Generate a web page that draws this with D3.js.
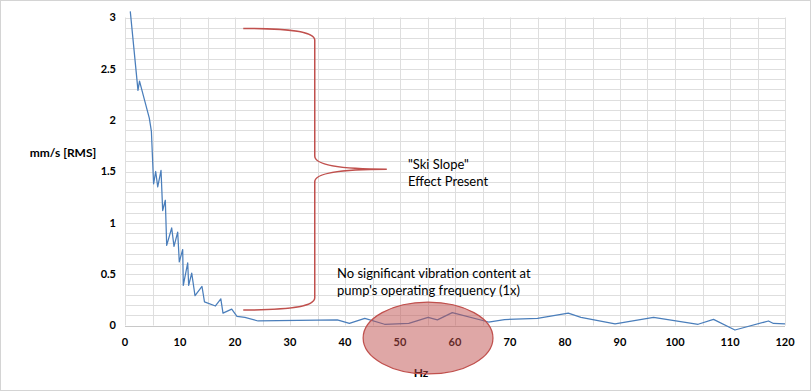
<!DOCTYPE html>
<html lang="en">
    <head>
        <meta charset="utf-8">
        <title>Vibration spectrum - ski slope</title>
        <script type="text/javascript" src="https://d3js.org/d3.v7.min.js"></script>
        <style>
            body { margin: 0; background: #fff; }
            .grid line { stroke: #dedede; stroke-width: 1px; }
            .tick-label { font-family: Lato, "Open Sans", sans-serif; font-weight: bold; font-size: 11px; fill: #000; }
            .axis-title { font-family: Lato, "Open Sans", sans-serif; font-weight: bold; font-size: 12px; fill: #000; }
            .note { font-family: Lato, "Open Sans", sans-serif; font-size: 13px; fill: #000; }
        </style>
    </head>
    <body>
        <svg width="811" height="391"></svg>

        <script type="text/javascript">

            // spectrum: frequency (Hz) and amplitude (mm/s RMS)
            var freqHz = [0.96, 2.36, 2.64, 4.42, 4.8, 5.2, 5.58, 5.95, 6.55, 6.85, 7.33, 7.58,
                          8.49, 8.91, 9.58, 9.87, 10.49, 10.6, 11.4, 11.58, 12.13, 12.73, 14.0, 14.45,
                          16.45, 17.42, 17.82, 19.4, 20.36, 21.8, 24.2, 38.6, 40.8, 43.6, 47.2, 51.6,
                          55.1, 56.8, 59.5, 66.1, 69.0, 75.0, 80.6, 82.9, 89.1, 96.1, 104.2, 107.0,
                          110.9, 117.0, 117.9, 120.0];
            var amplitude = [3.06, 2.29, 2.38, 2.02, 1.89, 1.38, 1.50, 1.35, 1.51, 1.12, 1.22, 0.78,
                             0.95, 0.77, 0.91, 0.62, 0.74, 0.39, 0.61, 0.39, 0.51, 0.29, 0.38, 0.23,
                             0.19, 0.26, 0.12, 0.16, 0.09, 0.08, 0.044, 0.055, 0.02, 0.07, 0.012, 0.02,
                             0.08, 0.055, 0.125, 0.034, 0.058, 0.07, 0.12, 0.08, 0.015, 0.08, 0.012, 0.06,
                             -0.044, 0.044, 0.02, 0.015];

            var xTicks = [0, 10, 20, 30, 40, 50, 60, 70, 80, 90, 100, 110, 120];
            var yTicks = [0, 0.5, 1, 1.5, 2, 2.5, 3];
            var noteSki = ["\"Ski Slope\"", "Effect Present"];
            var noteRun = ["No significant vibration content at", "pump's operating frequency (1x)"];

            var svg = d3.select("svg"),
                width = +svg.attr("width"),
                height = +svg.attr("height");

            var x = d3.scaleLinear().domain([0, 120]).range([125, 785]);
            var y = d3.scaleLinear().domain([0, 3]).range([325.5, 17.5]);

            // outer frame
            svg.append("rect")
              .attr("x", 0.5).attr("y", 0.5)
              .attr("width", width - 1).attr("height", height - 1)
              .attr("fill", "#fff").attr("stroke", "#d4d4d4");

            // minor grid: every 0.1 across, every 5 Hz down
            var grid = svg.append("g").attr("class", "grid");
            grid.selectAll("line.h")
              .data(d3.range(0, 31).map(function(i) { return i / 10; }))
              .enter().append("line")
              .attr("class", "h")
              .attr("x1", x(0)).attr("x2", x(120))
              .attr("y1", function(d) { return Math.round(y(d)) + 0.5; })
              .attr("y2", function(d) { return Math.round(y(d)) + 0.5; });
            grid.selectAll("line.v")
              .data(d3.range(0, 121, 5))
              .enter().append("line")
              .attr("class", "v")
              .attr("y1", y(0)).attr("y2", y(3))
              .attr("x1", function(d) { return Math.round(x(d)) + 0.5; })
              .attr("x2", function(d) { return Math.round(x(d)) + 0.5; });

            // axis base line
            svg.append("line")
              .attr("x1", x(0)).attr("x2", x(120))
              .attr("y1", Math.round(y(0)) + 0.5).attr("y2", Math.round(y(0)) + 0.5)
              .attr("stroke", "#c8c8c8");

            // tick labels
            svg.selectAll("text.yt")
              .data(yTicks)
              .enter().append("text")
              .attr("class", "tick-label yt")
              .attr("x", 116)
              .attr("y", function(d) { return y(d); })
              .attr("dy", "0.35em")
              .attr("text-anchor", "end")
              .text(function(d) { return d; });

            svg.selectAll("text.xt")
              .data(xTicks)
              .enter().append("text")
              .attr("class", "tick-label xt")
              .attr("x", function(d) { return x(d); })
              .attr("y", 342)
              .attr("dy", "0.35em")
              .attr("text-anchor", "middle")
              .text(function(d) { return d; });

            svg.append("text")
              .attr("class", "axis-title")
              .attr("x", 63).attr("y", 153).attr("dy", "0.35em")
              .attr("text-anchor", "middle")
              .text("mm/s [RMS]");

            svg.append("text")
              .attr("class", "axis-title")
              .attr("x", 421).attr("y", 373).attr("dy", "0.35em")
              .attr("text-anchor", "middle")
              .text("Hz");

            // the spectrum
            var points = freqHz.map(function(f, i) { return [f, amplitude[i]]; });
            var line = d3.line()
              .x(function(d) { return x(d[0]); })
              .y(function(d) { return y(d[1]); });

            svg.append("path")
              .datum(points)
              .attr("d", line)
              .attr("fill", "none")
              .attr("stroke", "#4a7ebb")
              .attr("stroke-width", 1.25)
              .attr("stroke-linejoin", "round");

            // curly brace around the low-frequency rise
            var bx0 = x(21.5), bx1 = x(34.5), bx2 = x(47.6);
            var yTop = y(2.894), yTopBend = y(2.78), yMidA = y(1.65),
                yTip = y(1.522), yMidB = y(1.40), yBotBend = y(0.27), yBot = y(0.151);
            var brace = d3.path();
            brace.moveTo(bx0, yTop);
            brace.bezierCurveTo(bx0 + 45, yTop, bx1, yTop + 3, bx1, yTopBend);
            brace.lineTo(bx1, yMidA);
            brace.bezierCurveTo(bx1, yTip - 3, bx1 + 30, yTip, bx2, yTip);
            brace.bezierCurveTo(bx1 + 30, yTip, bx1, yTip + 3, bx1, yMidB);
            brace.lineTo(bx1, yBotBend);
            brace.bezierCurveTo(bx1, yBot - 3, bx0 + 45, yBot, bx0, yBot);
            svg.append("path")
              .attr("d", brace.toString())
              .attr("fill", "none")
              .attr("stroke", "#c0504d")
              .attr("stroke-width", 1.5);

            svg.selectAll("text.ski")
              .data(noteSki)
              .enter().append("text")
              .attr("class", "note ski")
              .attr("x", 408)
              .attr("y", function(d, i) { return 164 + i * 17; })
              .attr("dy", "0.35em")
              .text(function(d) { return d; });

            svg.selectAll("text.run")
              .data(noteRun)
              .enter().append("text")
              .attr("class", "note run")
              .attr("x", 337)
              .attr("y", function(d, i) { return 273 + i * 17; })
              .attr("dy", "0.35em")
              .text(function(d) { return d; });

            // highlight around the running speed
            svg.append("ellipse")
              .attr("cx", x(55.1)).attr("cy", y(-0.122))
              .attr("rx", x(11.8) - x(0)).attr("ry", y(0) - y(0.35))
              .attr("fill", "#c0504d")
              .attr("fill-opacity", 0.5)
              .attr("stroke", "#c0504d")
              .attr("stroke-width", 1.25);

        </script>
    </body>
</html>
